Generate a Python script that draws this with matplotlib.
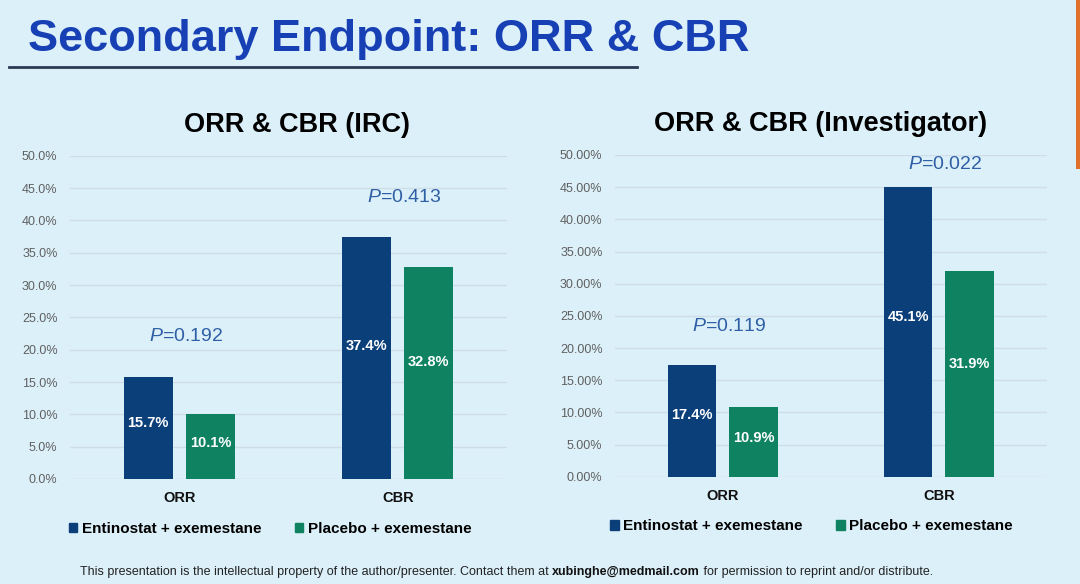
import numpy as np
import matplotlib.pyplot as plt
from matplotlib.patches import Patch, Rectangle

plt.rcParams["font.family"] = ["Liberation Sans", "DejaVu Sans"]
plt.rcParams["mathtext.fontset"] = "custom"
plt.rcParams["mathtext.it"] = "Liberation Sans:italic"
plt.rcParams["mathtext.rm"] = "Liberation Sans"

# --- data
categories = ["ORR", "CBR"]
series_names = ["Entinostat + exemestane", "Placebo + exemestane"]
irc_entinostat = [15.7, 37.4]
irc_placebo = [10.1, 32.8]
irc_pvalues = ["0.192", "0.413"]
inv_entinostat = [17.4, 45.1]
inv_placebo = [10.9, 31.9]
inv_pvalues = ["0.119", "0.022"]
yticks = [0, 5, 10, 15, 20, 25, 30, 35, 40, 45, 50]

BG = "#dcf0f9"
BLUE = "#0b3f7a"
GREEN = "#0f8262"
PCOL = "#2f5fa5"

fig = plt.figure(figsize=(10.8, 5.84), dpi=100, facecolor=BG)

# header
fig.text(0.026, 0.933, "Secondary Endpoint: ORR & CBR", fontsize=32.5,
         fontweight="bold", color="#1840b5", va="center", ha="left")
fig.add_artist(plt.Line2D([0.008, 0.59], [0.885, 0.885], transform=fig.transFigure,
                          color="#2a3a55", lw=2))
fig.add_artist(Rectangle((0.9965, 0.71), 0.0035, 0.29, transform=fig.transFigure,
                         color="#e0702a", lw=0))


def panel(rect, title, title_x, ent, plc, pvals, p_y, fmt, legend_x):
    ax = fig.add_axes(rect)
    ax.set_facecolor(BG)
    x = np.array([0.5, 1.5])
    w = 0.225
    off = 0.1425
    b1 = ax.bar(x - off, ent, w, color=BLUE, zorder=3)
    b2 = ax.bar(x + off, plc, w, color=GREEN, zorder=3)
    for bars, vals in ((b1, ent), (b2, plc)):
        for b, v in zip(bars, vals):
            ax.text(b.get_x() + b.get_width() / 2, v * 0.55, f"{v}%", color="white",
                    fontsize=10.5, fontweight="bold", ha="center", va="center", zorder=4)
    for xi, p, py in zip(x, pvals, p_y):
        ax.text(xi + 0.03, py, f"$\\mathit{{P}}$=" + p, color=PCOL, fontsize=14,
                ha="center", va="center")
    ax.set_xlim(0, 2)
    ax.set_ylim(0, 50)
    ax.set_yticks(yticks)
    ax.set_yticklabels([fmt.format(t) for t in yticks], color="#606060", fontsize=9)
    ax.set_xticks(x)
    ax.set_xticklabels(categories, fontsize=10.5, fontweight="bold", color="#111111")
    ax.tick_params(axis="y", length=0, pad=9)
    ax.tick_params(axis="x", length=0, pad=9)
    ax.grid(axis="y", color="#cfdde6", lw=1, zorder=0)
    for s in ax.spines.values():
        s.set_visible(False)
    ax.set_title(title, fontsize=19.5, fontweight="bold", pad=17, x=title_x)
    handles = [Patch(color=BLUE), Patch(color=GREEN)]
    ax.legend(handles, series_names, loc="upper center", bbox_to_anchor=(legend_x, -0.09),
              ncol=2, frameon=False, handlelength=0.55, handleheight=0.55,
              handletextpad=0.3, columnspacing=2.2,
              prop={"weight": "bold", "size": 11})
    return ax


panel([0.0648, 0.1798, 0.4046, 0.5536], "ORR & CBR (IRC)", 0.52,
      irc_entinostat, irc_placebo, irc_pvalues, [22.0, 43.6], "{:.1f}%", 0.458)
panel([0.5694, 0.1837, 0.4, 0.5509], "ORR & CBR (Investigator)", 0.477,
      inv_entinostat, inv_placebo, inv_pvalues, [23.3, 48.5], "{:.2f}%", 0.455)

# footer
fy = 0.015
t1 = fig.text(0.074, fy, "This presentation is the intellectual property of the author/presenter. Contact them at ",
              fontsize=9, color="#222222", va="baseline")
t2 = fig.text(0, 0, "xubinghe@medmail.com", fontsize=9, fontweight="bold", color="#111111")
t3 = fig.text(0, 0, " for permission to reprint and/or distribute.", fontsize=9, color="#222222")
fig.canvas.draw()
r = fig.canvas.get_renderer()
bb1 = t1.get_window_extent(r).transformed(fig.transFigure.inverted())
t2.set_position((bb1.x1, fy))
bb2 = t2.get_window_extent(r).transformed(fig.transFigure.inverted())
t3.set_position((bb2.x1, fy))

fig.savefig("out.png", dpi=100, facecolor=BG)
